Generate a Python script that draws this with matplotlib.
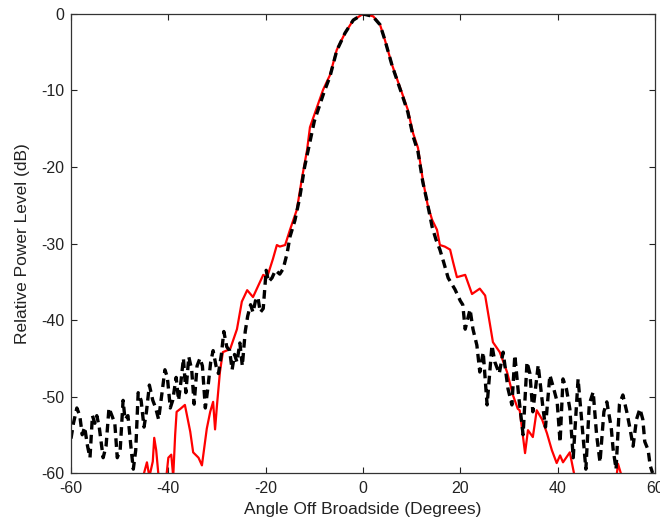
import matplotlib
matplotlib.use("Agg")
import matplotlib.pyplot as plt

plt.rcParams['font.family'] = ['Liberation Sans', 'DejaVu Sans']
plt.rcParams['axes.unicode_minus'] = False

# Measured pattern (red, solid)
red_angle = [-50, -46, -45.2, -44.4, -43.9, -43.2, -42.9, -42.5, -42.0, -41.5, -40.5, -40.0,
             -39.4, -39.0, -38.6, -38.3, -37.5, -36.6, -35.5, -34.9, -33.8, -33.1, -32.1, -31.4,
             -30.8, -30.4, -30.0, -29.4, -28.8, -27.3, -25.9, -24.9, -23.8, -22.6, -20.5, -19.7,
             -18.5, -17.7, -17.1, -16.0, -15.0, -13.6, -12.5, -11.5, -10.9, -8.2, -6.8, -5.4,
             -3.7, -2.0, 0.0, 2.1, 3.5, 4.5, 6.0, 8.0, 9.2, 10.3, 11.3, 12.3, 13.3, 14.2, 15.2,
             15.8, 16.8, 17.9, 18.5, 19.3, 21.0, 22.4, 24.0, 25.1, 26.1, 26.7, 28.1, 29.6, 30.8,
             31.8, 32.2, 33.3, 33.9, 34.9, 35.7, 36.8, 37.8, 38.8, 39.8, 40.5, 41.1, 42.5, 43.5,
             44.5, 46.2, 47.0, 50.0, 52.0, 52.4, 53.2, 54.0, 60.0]
red_db = [-66, -63, -60.5, -58.6, -60.5, -58.5, -55.4, -57.0, -60.5, -63.0, -61.0, -58.0,
          -57.6, -60.5, -55.0, -52.0, -51.6, -51.1, -54.6, -57.3, -58.0, -59.0, -54.2, -52.0,
          -50.7, -54.3, -51.1, -46.8, -44.2, -43.8, -41.2, -37.6, -36.1, -37.0, -34.1, -34.4,
          -32.0, -30.2, -30.4, -30.2, -28.2, -25.6, -21.3, -17.8, -14.8, -9.9, -8.0, -4.7,
          -2.5, -0.8, 0.0, -0.3, -1.4, -3.4, -6.7, -10.3, -12.5, -15.6, -17.5, -21.7, -25.0, -26.9, -28.2,
          -30.2, -30.4, -30.8, -32.4, -34.4, -34.1, -36.6, -35.9, -36.8, -40.6, -42.9, -44.2, -46.8, -49.8,
          -51.6, -51.8, -57.4, -54.4, -55.3, -51.8, -53.0, -54.8, -57.0, -58.7, -57.7, -58.6, -57.3, -60.5,
          -63.0, -60.3, -63.0, -65.0, -61.0, -58.8, -60.5, -64.0, -66.0]

# Simulated pattern (black, dashed)
blk_angle = [-60, -59.5, -58.8, -58.2, -57.7, -57.2, -56.6, -56.1, -55.6, -55.1, -54.7, -54.2,
             -53.4, -52.8, -52.2, -51.6, -51.0, -50.5, -49.9, -49.3, -48.9, -48.3, -47.7, -47.2,
             -46.7, -46.2, -45.6, -45.0, -44.5, -43.9, -43.2, -42.6, -42.0, -41.4, -40.7, -40.2,
             -39.6, -39.1, -38.4, -37.9, -37.4, -36.9, -36.4, -35.8, -35.2, -34.7, -34.1, -33.5,
             -33.0, -32.4, -31.9, -31.3, -30.8, -30.2, -29.7, -29.1, -28.6, -28.0, -27.4, -26.9,
             -26.4, -25.9, -25.3, -24.8, -24.2, -23.7, -23.1, -22.6, -22.1, -21.6, -21.1, -20.5,
             -19.9, -19.4, -18.7, -18.0, -17.1, -16.4, -15.6, -15.0, -14.0, -13.0, -12.0, -11.0,
             -10.0, -8.0, -6.8, -5.4, -3.7, -2.0, 0.0, 2.0, 3.5, 4.5, 6.0, 8.0, 9.2, 10.3, 11.3,
             12.3, 13.1, 14.2, 15.0, 15.8, 16.6, 17.5, 18.9, 20.0, 20.5, 21.0, 22.0, 22.6, 23.4,
             24.0, 24.7, 25.5, 26.5, 27.1, 28.0, 28.8, 29.8, 30.6, 31.2, 32.0, 32.9, 33.7, 34.3,
             34.9, 36.0, 37.0, 37.5, 38.4, 39.2, 39.9, 40.5, 41.1, 41.8, 42.5, 43.2, 44.2, 45.2,
             45.8, 46.5, 47.3, 48.0, 48.7, 49.5, 50.1, 51.0, 51.4, 52.0, 52.7, 53.4, 54.2, 54.9,
             55.5, 56.2, 56.9, 57.5, 57.9, 58.6, 59.0, 59.5]
blk_db = [-55.5, -53.5, -51.5, -52.5, -55.0, -54.0, -56.5, -58.0, -52.5, -53.5, -52.5, -54.0,
          -58.0, -56.5, -51.5, -52.5, -53.5, -58.0, -57.0, -50.5, -53.0, -52.5, -56.5, -59.5,
          -57.0, -49.5, -50.5, -54.0, -52.0, -48.5, -50.5, -51.5, -53.0, -50.0, -46.5, -47.5,
          -51.5, -50.5, -47.5, -50.5, -48.0, -45.0, -49.5, -44.8, -46.5, -51.0, -46.0, -45.0,
          -46.0, -51.5, -49.0, -45.5, -44.0, -46.0, -47.0, -44.5, -41.5, -43.5, -44.0, -46.5,
          -44.5, -45.5, -43.0, -46.0, -41.5, -39.5, -38.0, -39.0, -37.5, -37.0, -39.0, -38.5,
          -33.5, -35.0, -34.5, -33.5, -34.0, -33.3, -31.3, -29.1, -27.0, -24.0, -20.0, -17.0,
          -14.0, -10.2, -8.2, -4.8, -2.5, -0.8, 0.0, -0.3, -1.4, -3.4, -6.8, -10.5, -12.8, -16.0, -18.0,
          -22.0, -24.3, -27.8, -29.5, -30.8, -32.5, -34.5, -36.0, -37.5, -38.0, -41.2, -38.6, -41.2, -43.3,
          -46.8, -44.2, -51.1, -43.3, -45.5, -47.0, -44.2, -49.0, -51.1, -44.6, -50.0, -55.0, -45.5, -47.0,
          -52.0, -45.9, -51.6, -54.0, -47.2, -49.0, -50.7, -56.0, -47.7, -49.0, -51.6, -58.0, -47.7, -55.0,
          -59.5, -51.0, -49.4, -55.0, -58.6, -52.0, -50.7, -54.0, -56.9, -59.5, -51.0, -49.8, -52.0, -54.3,
          -56.5, -53.0, -51.6, -53.0, -55.9, -57.0, -59.0, -60.0]

fig = plt.figure(figsize=(6.6, 5.24), dpi=100)
ax = fig.add_axes([0.1076, 0.0973, 0.8848, 0.876])

ax.plot(red_angle, red_db, color='red', linewidth=1.6)
ax.plot(blk_angle, blk_db, color='black', linewidth=2.4, dashes=(2.6, 1.6))

ax.set_xlim(-60, 60)
ax.set_ylim(-60, 0)
ax.set_xticks([-60, -40, -20, 0, 20, 40, 60])
ax.set_yticks([-60, -50, -40, -30, -20, -10, 0])
ax.tick_params(direction='in', top=True, right=True, length=4, width=0.8,
               labelsize=11.5, colors='#222222')
ax.tick_params(axis='x', pad=6)
ax.tick_params(axis='y', pad=5)
for s in ax.spines.values():
    s.set_linewidth(0.9)
    s.set_color('#333333')

ax.set_xlabel("Angle Off Broadside (Degrees)", fontsize=12.5, labelpad=4, color='#222222')
ax.set_ylabel("Relative Power Level (dB)", fontsize=12.5, labelpad=8, color='#222222')

fig.savefig("out.png", dpi=100)
